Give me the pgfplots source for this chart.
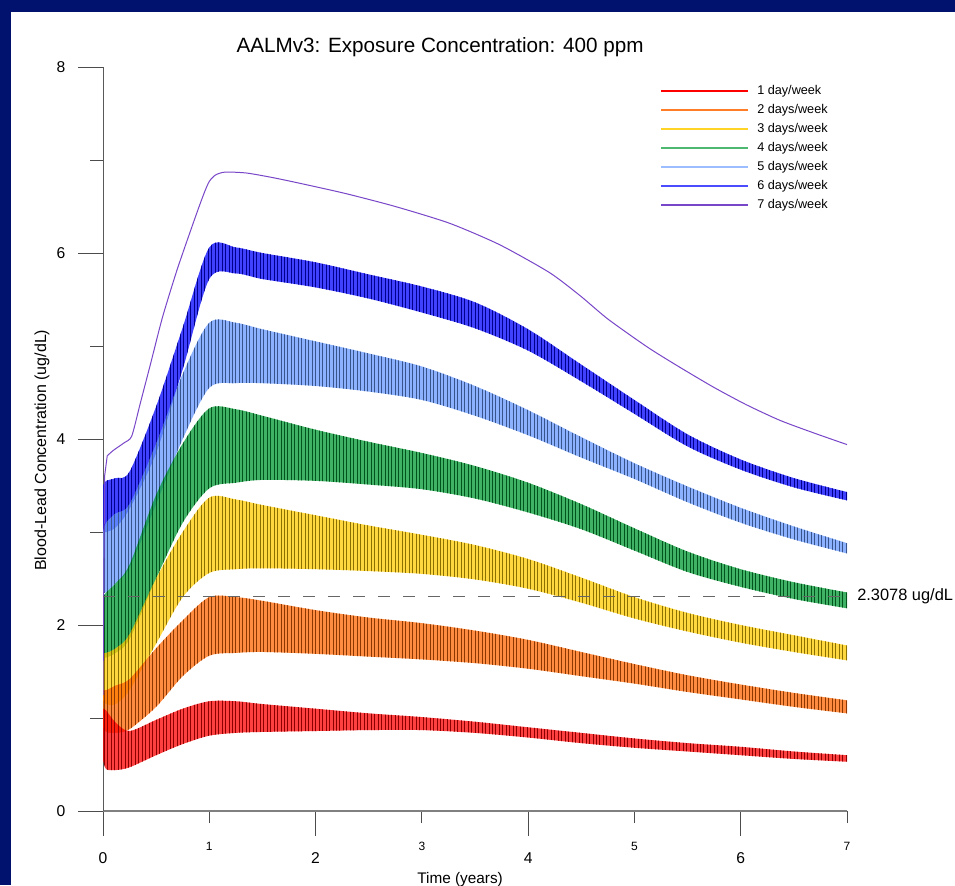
\documentclass[border=0pt]{standalone}
\usepackage{fontspec}
\setmainfont{Liberation Sans}
\usepackage{pgfplots}
\pgfplotsset{compat=1.18}
\usepackage{pgfplotstable}
\usepgfplotslibrary{fillbetween}
\usetikzlibrary{patterns.meta}

\definecolor{navy}{RGB}{0,18,110}
\definecolor{cRed}{RGB}{255,0,0}
\definecolor{cOrange}{RGB}{255,102,0}
\definecolor{cYellow}{RGB}{255,204,0}
\definecolor{cGreen}{RGB}{0,153,51}
\definecolor{cLBlue}{RGB}{102,153,255}
\definecolor{cBlue}{RGB}{0,0,255}
\definecolor{cPurple}{RGB}{120,70,200}

% 1 day/week
\pgfplotstableread{
x lo hi
0.00 0.55 1.10
0.03 0.45 1.08
0.12 0.44 0.95
0.25 0.47 0.86
0.50 0.60 0.98
0.75 0.72 1.10
1.00 0.81 1.18
1.25 0.84 1.18
1.50 0.85 1.15
2.00 0.86 1.10
2.50 0.87 1.05
3.00 0.87 1.01
3.50 0.84 0.96
4.00 0.79 0.90
4.50 0.73 0.84
5.00 0.68 0.78
5.50 0.64 0.73
6.00 0.60 0.69
6.50 0.56 0.64
7.00 0.53 0.60
}\tabA
% 2 days/week
\pgfplotstableread{
x lo hi
0.00 0.90 1.30
0.03 0.85 1.30
0.12 0.84 1.35
0.25 0.88 1.42
0.50 1.12 1.75
0.75 1.45 2.05
1.00 1.67 2.30
1.25 1.70 2.30
1.50 1.71 2.26
2.00 1.69 2.16
2.50 1.66 2.08
3.00 1.63 2.02
3.50 1.59 1.94
4.00 1.53 1.84
4.50 1.45 1.71
5.00 1.37 1.58
5.50 1.28 1.46
6.00 1.20 1.36
6.50 1.12 1.27
7.00 1.05 1.19
}\tabB
% 3 days/week
\pgfplotstableread{
x lo hi
0.00 1.20 1.70
0.03 1.15 1.70
0.12 1.15 1.75
0.25 1.30 1.90
0.50 1.80 2.50
0.75 2.30 3.00
1.00 2.56 3.37
1.25 2.60 3.35
1.50 2.61 3.29
2.00 2.60 3.18
2.50 2.58 3.07
3.00 2.55 2.97
3.50 2.49 2.86
4.00 2.39 2.71
4.50 2.24 2.51
5.00 2.07 2.30
5.50 1.93 2.13
6.00 1.81 2.00
6.50 1.71 1.89
7.00 1.62 1.78
}\tabC
% 4 days/week
\pgfplotstableread{
x lo hi
0.00 1.65 2.30
0.03 1.65 2.35
0.12 1.70 2.45
0.25 1.85 2.65
0.50 2.50 3.40
0.75 3.10 3.95
1.00 3.47 4.33
1.25 3.53 4.32
1.50 3.56 4.25
2.00 3.55 4.10
2.50 3.51 3.97
3.00 3.46 3.85
3.50 3.36 3.71
4.00 3.21 3.53
4.50 3.03 3.30
5.00 2.80 3.04
5.50 2.57 2.79
6.00 2.41 2.60
6.50 2.28 2.46
7.00 2.18 2.35
}\tabD
% 5 days/week
\pgfplotstableread{
x lo hi
0.00 2.35 3.00
0.03 2.35 3.10
0.12 2.45 3.20
0.25 2.62 3.30
0.50 3.30 3.95
0.75 4.00 4.70
1.00 4.55 5.25
1.25 4.60 5.25
1.50 4.60 5.18
2.00 4.57 5.05
2.50 4.51 4.92
3.00 4.42 4.78
3.50 4.25 4.57
4.00 4.04 4.31
4.50 3.80 4.02
5.00 3.57 3.74
5.50 3.32 3.49
6.00 3.10 3.26
6.50 2.92 3.06
7.00 2.77 2.88
}\tabE
% 6 days/week
\pgfplotstableread{
x lo hi
0.00 3.00 3.50
0.03 3.00 3.55
0.12 3.05 3.58
0.25 3.25 3.65
0.50 3.85 4.35
0.75 4.75 5.20
1.00 5.72 6.06
1.25 5.78 6.06
1.50 5.72 6.00
2.00 5.63 5.90
2.50 5.51 5.77
3.00 5.36 5.64
3.50 5.19 5.47
4.00 4.95 5.18
4.50 4.62 4.80
5.00 4.27 4.42
5.50 3.92 4.05
6.00 3.67 3.78
6.50 3.48 3.58
7.00 3.34 3.43
}\tabF
% 7 days/week (start segment)
\pgfplotstableread{
x y
0.000 1.25
0.015 3.60
0.040 3.82
}\tabGa
% 7 days/week
\pgfplotstableread{
x y
0.040 3.82
0.100 3.88
0.200 3.96
0.270 4.03
0.350 4.38
0.450 4.82
0.560 5.31
0.700 5.83
0.870 6.39
0.950 6.64
1.000 6.77
1.060 6.84
1.150 6.87
1.350 6.86
1.600 6.81
1.850 6.75
2.280 6.64
2.750 6.50
3.260 6.32
3.730 6.09
4.200 5.79
4.490 5.54
4.750 5.29
5.120 4.99
5.400 4.79
5.740 4.56
6.050 4.37
6.370 4.20
6.700 4.06
7.000 3.94
}\tabG

\newcommand{\band}[3]{%
  \addplot[draw=none, name path=#3L, forget plot, smooth, tension=0.5] table[x=x,y=lo]{#1};
  \addplot[draw=none, name path=#3U, forget plot, smooth, tension=0.5] table[x=x,y=hi]{#1};
  \addplot[fill=#2, fill opacity=0.75, draw=none, forget plot] fill between[of=#3U and #3L];
  \addplot[draw=none, pattern={Lines[angle=90,distance=2.6pt,line width=0.4pt]}, pattern color=#2!55!black, fill opacity=0.5, forget plot] fill between[of=#3U and #3L];
}
% legend row: y value, colour, text
\newcommand{\legrow}[3]{%
  \draw[#2, line width=0.9pt] (axis cs:5.2500,#1) -- (axis cs:6.0685,#1);
  \node[anchor=west, inner sep=0pt, font=\fontsize{9.5}{11}\selectfont] at (axis cs:6.1532,#1) {#3};
}

\begin{document}
\begin{tikzpicture}
\begin{axis}[
  at={(77.25pt,55.5pt)}, anchor=south west,
  scale only axis, width=558pt, height=558pt,
  xmin=0, xmax=7, ymin=0, ymax=8,
  clip mode=individual,
  axis x line*=bottom, axis y line*=left,
  x axis line style={-, black!50, line width=1pt},
  y axis line style={-, black!65, line width=0.7pt},
  tick align=outside,
  major tick length=18.75pt, minor tick length=9.75pt,
  tick style={black!70, line width=0.6pt},
  xtick={0,2,4,6}, extra x ticks={1,3,5,7},
  extra x tick style={major tick length=9pt,
     xticklabel style={font=\fontsize{9}{10}\selectfont, yshift=-2pt}},
  ytick={0,2,4,6,8}, minor ytick={1,3,5,7},
  /pgf/number format/assume math mode=true,
  ticklabel style={font=\fontsize{11.75}{13}\selectfont},
  xticklabel style={yshift=-9pt},
  yticklabel style={xshift=-6pt},
  title={AALMv3: Exposure Concentration: 400 ppm},
  title style={at={(axis description cs:0.453,1.0162)}, anchor=center, font=\fontsize{15.5}{18}\selectfont},
  xlabel={Time (years)},
  xlabel style={at={(axis description cs:0.48,-0.0915)}, anchor=center, font=\fontsize{11.5}{13}\selectfont},
  ylabel={Blood-Lead Concentration (ug/dL)},
  ylabel style={at={(axis description cs:-0.082,0.485)}, anchor=center, font=\fontsize{12}{14}\selectfont},
]
\begin{pgfonlayer}{axis background}
\fill[navy] (axis cs:-0.96909,-0.79570) rectangle (axis cs:8.01613,8.72043);
\fill[white] (axis cs:-0.86559,-0.79570) rectangle (axis cs:8.01613,8.59140);
\end{pgfonlayer}
\band{\tabF}{cBlue}{f}
\band{\tabE}{cLBlue}{e}
\band{\tabD}{cGreen}{d}
\band{\tabC}{cYellow}{c}
\band{\tabB}{cOrange}{b}
\band{\tabA}{cRed}{a}
\addplot[cPurple, line width=0.75pt, forget plot] table[x=x,y=y]{\tabGa};
\addplot[cPurple, line width=0.75pt, forget plot, smooth, tension=0.4] table[x=x,y=y]{\tabG};
\addplot[black!60, line width=1.3pt, dash pattern=on 9pt off 9.75pt, forget plot] coordinates {(0,2.3078) (7,2.3078)};
\node[anchor=west, inner sep=0pt, font=\fontsize{12.3}{14}\selectfont] at (axis cs:7,2.3078) [xshift=7.5pt] {2.3078 ug/dL};
\legrow{7.7419}{cRed}{1 day/week}
\legrow{7.5376}{cOrange!85}{2 days/week}
\legrow{7.3333}{cYellow!85}{3 days/week}
\legrow{7.1290}{cGreen!70}{4 days/week}
\legrow{6.9247}{cLBlue!65}{5 days/week}
\legrow{6.7204}{cBlue!70}{6 days/week}
\legrow{6.5161}{cPurple}{7 days/week}
\end{axis}
\pgfresetboundingbox
\useasboundingbox (0,0) rectangle (716.25pt,663.75pt);
\end{tikzpicture}
\end{document}
